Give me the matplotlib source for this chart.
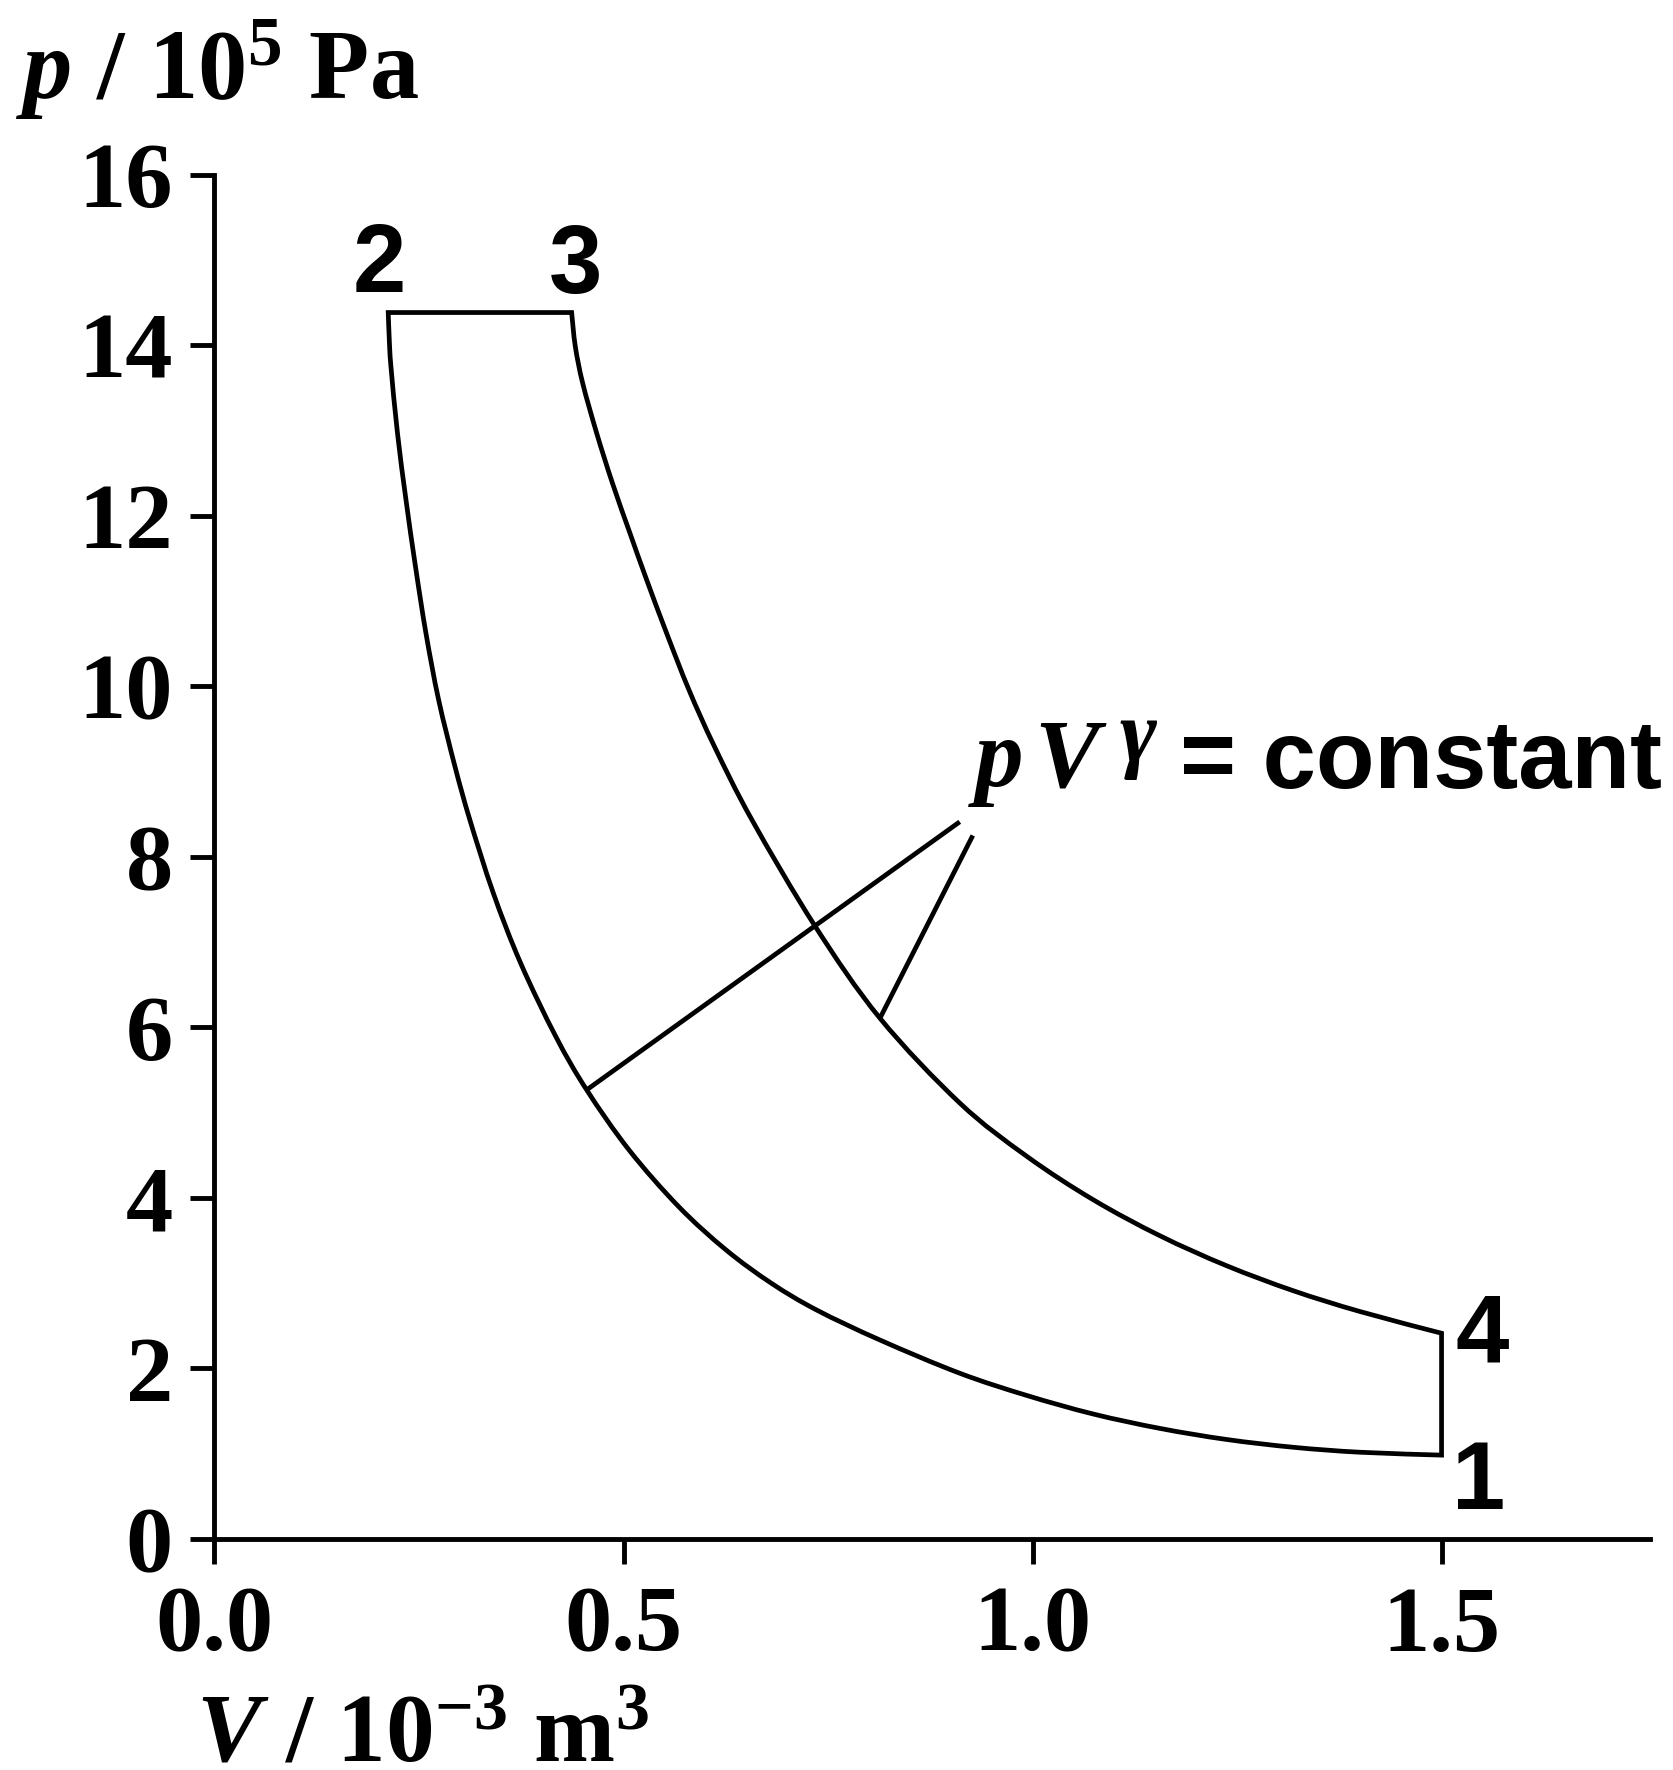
import matplotlib
matplotlib.use("Agg")
import matplotlib.pyplot as plt
import numpy as np
from matplotlib.path import Path
from matplotlib.patches import PathPatch

# math text: serif bold, italic letters bold italic
plt.rcParams['mathtext.fontset'] = 'custom'
plt.rcParams['mathtext.rm'] = 'Liberation Serif:bold'
plt.rcParams['mathtext.bf'] = 'Liberation Serif:bold'
plt.rcParams['mathtext.it'] = 'Liberation Serif:italic:bold'

# compression 1 -> 2, V in 10^-3 m^3, p in 10^5 Pa
v_12 = [1.500, 1.400, 1.319, 1.237, 1.156, 1.074, 0.993, 0.911, 0.8134, 0.736, 0.6807,
        0.6254, 0.5675, 0.5067, 0.455, 0.4173, 0.3743, 0.3409, 0.3122, 0.294, 0.274, 0.2585,
        0.2457, 0.2341, 0.2237, 0.2157, 0.2137, 0.2124]
p_12 = [0.98, 1.014, 1.072, 1.164, 1.293, 1.463, 1.68, 1.941, 2.331, 2.683, 2.997,
        3.387, 3.895, 4.561, 5.265, 5.89, 6.751, 7.573, 8.433, 9.058, 9.841, 10.623,
        11.405, 12.187, 12.97, 13.751, 14.064, 14.385]

# expansion 3 -> 4
v_34 = [0.4366, 0.4411, 0.4501, 0.4672, 0.4865, 0.5079, 0.5283, 0.5527, 0.580, 0.6112,
        0.657, 0.734, 0.8135, 0.9113, 0.9928, 1.0742, 1.1557, 1.2373, 1.3187, 1.4002, 1.500]
p_34 = [14.385, 13.986, 13.556, 12.97, 12.383, 11.796, 11.249, 10.623, 9.958, 9.293,
        8.433, 7.189, 6.106, 5.109, 4.487, 3.976, 3.554, 3.202, 2.909, 2.665, 2.41]

# pointer lines from the "pV^gamma = constant" label
ptr_a_v = [0.455, 0.911]
ptr_a_p = [5.265, 8.41]
ptr_b_v = [0.8135, 0.927]
ptr_b_p = [6.106, 8.25]

state_labels = ['1', '2', '3', '4']

x_ticks = [0.0, 0.5, 1.0, 1.5]
x_tick_labels = ['0.0', '0.5', '1.0', '1.5']
y_ticks = [0, 2, 4, 6, 8, 10, 12, 14, 16]


def smooth_segments(vs, ps):
    # catmull-rom through the read points, as cubic bezier pieces
    pts = np.column_stack([vs, ps])
    ext = np.vstack([pts[0], pts, pts[-1]])
    verts = []
    for i in range(len(pts) - 1):
        a, b, c, d = ext[i], ext[i + 1], ext[i + 2], ext[i + 3]
        verts += [b + (c - a) / 6, c - (d - b) / 6, c]
    return pts[0], verts


fig = plt.figure(figsize=(16.73, 17.70), dpi=100)
ax = fig.add_axes([0.1282, 0.1307, 0.858, 0.7705])

# closed cycle 1 -> 2 -> 3 -> 4 -> 1
start12, curve12 = smooth_segments(v_12, p_12)
start34, curve34 = smooth_segments(v_34, p_34)
verts = [start12] + curve12 + [start34] + curve34 + [start12, start12]
codes = ([Path.MOVETO] + [Path.CURVE4] * len(curve12) + [Path.LINETO]
         + [Path.CURVE4] * len(curve34) + [Path.LINETO, Path.CLOSEPOLY])
cycle = PathPatch(Path(verts, codes), facecolor='none', edgecolor='black',
                  lw=3.4, joinstyle='miter', clip_on=False)
ax.add_patch(cycle)

ax.plot(ptr_a_v, ptr_a_p, color='black', lw=3.4, solid_capstyle='butt')
ax.plot(ptr_b_v, ptr_b_p, color='black', lw=3.4, solid_capstyle='butt')

sans = dict(family='Liberation Sans', weight='bold', fontsize=69)
ax.text(1.545, 0.35, state_labels[0], ha='center', va='baseline', **sans)
ax.text(0.202, 14.63, state_labels[1], ha='center', va='baseline', **sans)
ax.text(0.441, 14.62, state_labels[2], ha='center', va='baseline', **sans)
ax.text(1.550, 2.07, state_labels[3], ha='center', va='baseline', **sans)

serif_it = dict(family='Liberation Serif', style='italic', weight='bold', clip_on=False)
ax.text(0.929, 8.83, 'p', ha='left', va='baseline', fontsize=70, **serif_it)
ax.text(1.002, 8.83, 'V', ha='left', va='baseline', fontsize=70, **serif_it)
ax.text(1.106, 9.12, '\u03b3', ha='left', va='baseline', fontsize=64, **serif_it)
ax.text(1.180, 8.81, '= constant', ha='left', va='baseline', clip_on=False, **sans)

ax.set_xlim(0, 1.7547)
ax.set_ylim(0, 16)
ax.set_xticks(x_ticks)
ax.set_xticklabels(x_tick_labels)
ax.set_yticks(y_ticks)

for s in ['top', 'right']:
    ax.spines[s].set_visible(False)
for s in ['left', 'bottom']:
    ax.spines[s].set_linewidth(3.5)

ax.tick_params(axis='both', direction='out', width=3.5, color='black')
ax.tick_params(axis='x', length=18, pad=16)
ax.tick_params(axis='y', length=17, pad=13)
for lab in ax.get_xticklabels() + ax.get_yticklabels():
    lab.set_family('Liberation Serif')
    lab.set_weight('bold')
    lab.set_fontsize(68)

fig.text(15 / 1673, 1 - 99 / 1770, r'$p$ / 10$^5$ Pa', family='Liberation Serif',
         weight='bold', fontsize=71, ha='left', va='baseline')
fig.text(196 / 1673, 1 - 1760 / 1770, r'$V$ / 10$^{-3}$ m$^3$', family='Liberation Serif',
         weight='bold', fontsize=70, ha='left', va='baseline')

fig.savefig('out.png', dpi=100, facecolor='white')
